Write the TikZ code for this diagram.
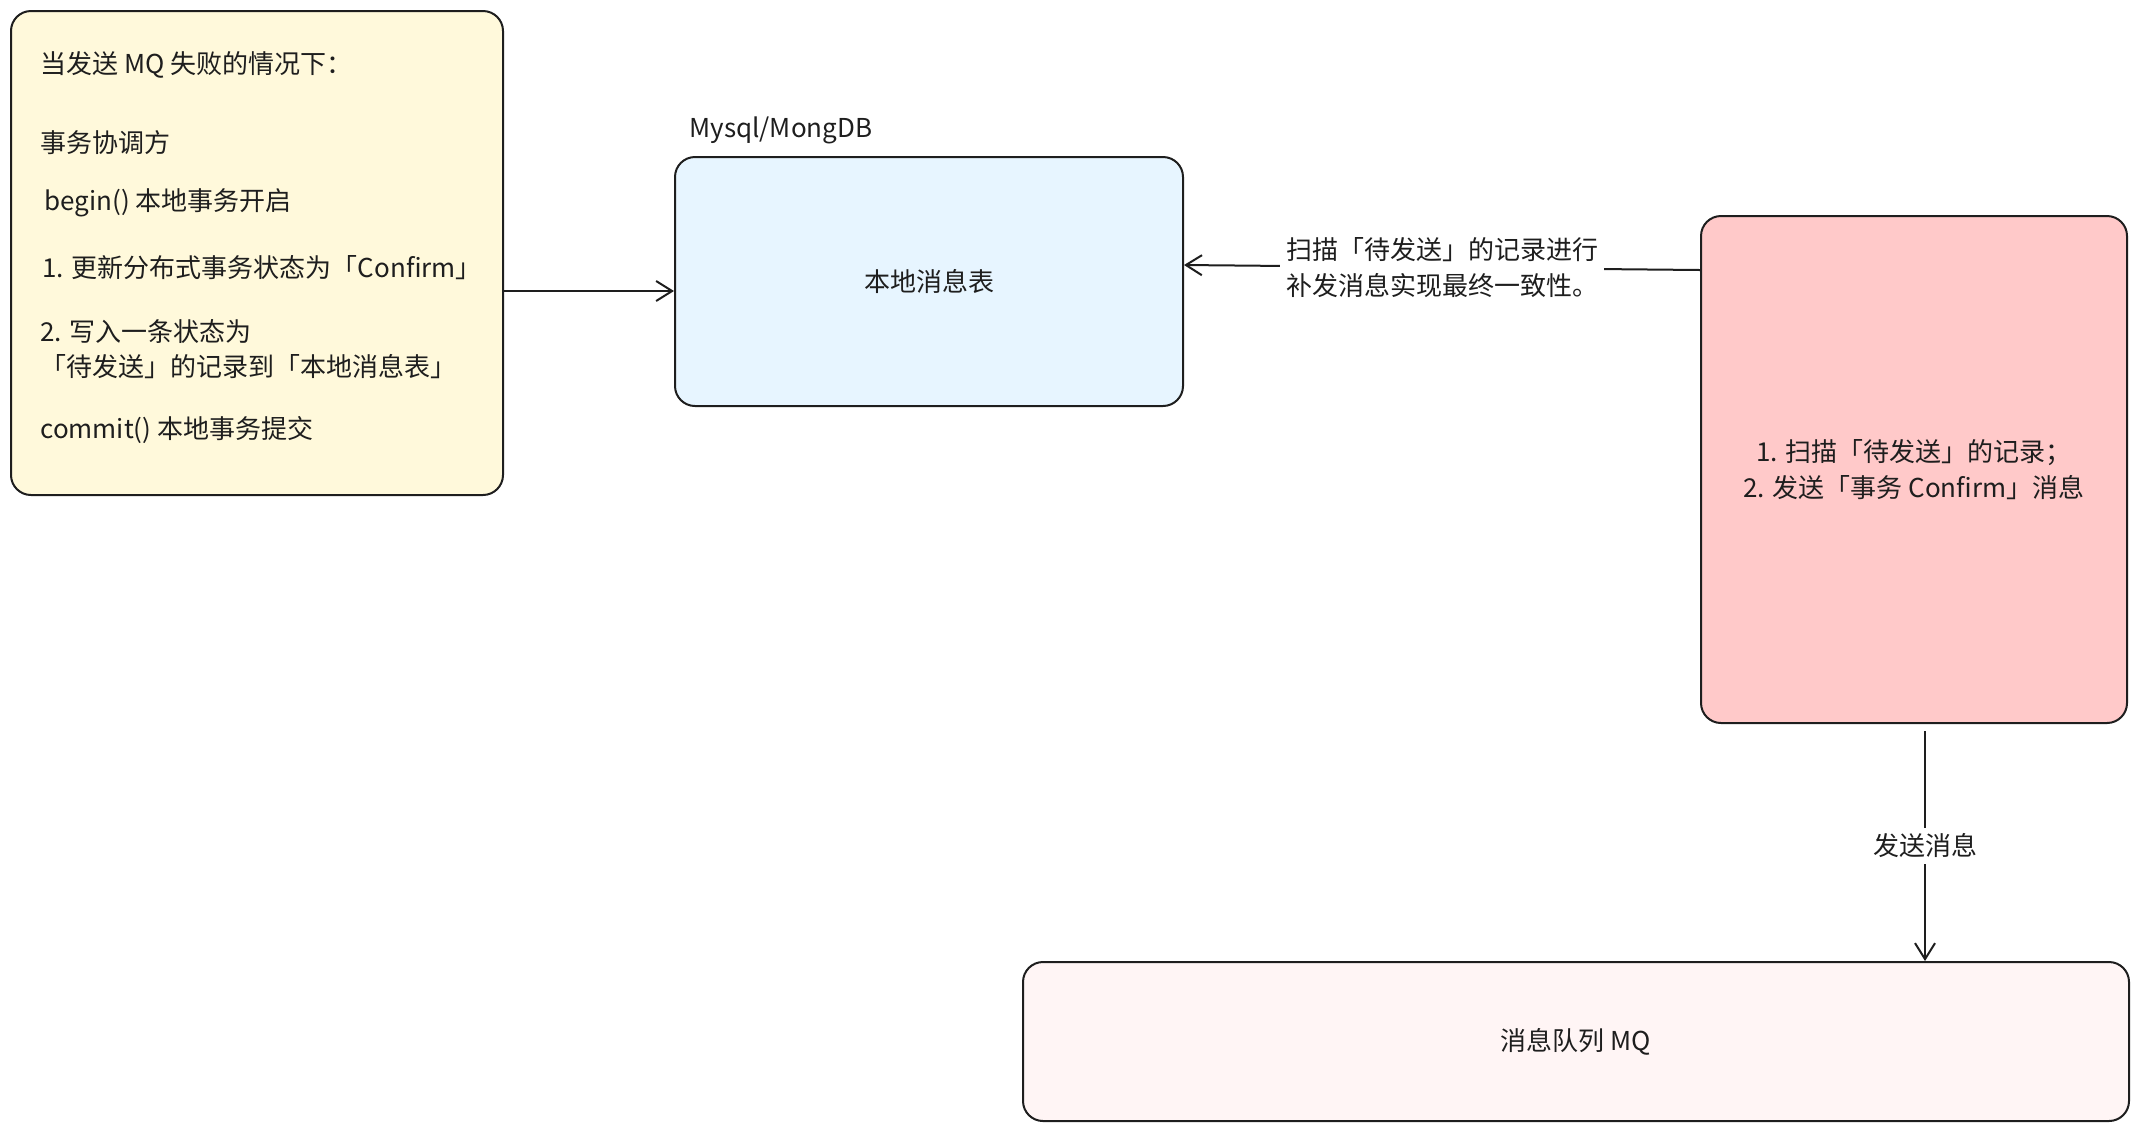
\documentclass[tikz,border=0pt]{standalone}
\usepackage{fontspec}
\setmainfont{Noto Sans CJK SC}
\usetikzlibrary{arrows.meta}
\definecolor{ink}{HTML}{1E1E1E}
\definecolor{yel}{HTML}{FFF9DB}
\definecolor{blu}{HTML}{E7F5FF}
\definecolor{rd}{HTML}{FFC9C9}
\definecolor{pnk}{HTML}{FFF5F5}
\tikzset{
  box/.style={draw=ink, line width=1pt, rounded corners=10pt, inner sep=0pt, font=\fontsize{13}{18}\selectfont, text=ink},
  txt/.style={anchor=west, inner sep=0pt, font=\fontsize{13}{17}\selectfont, text=ink},
  arr/.style={draw=ink, line width=1pt, -{Straight Barb[length=8pt,width=10pt,line width=1pt]}},
  lbl/.style={fill=white, inner sep=3pt, font=\fontsize{13}{18}\selectfont, text=ink, align=left}
}
\begin{document}
\begin{tikzpicture}[x=0.5pt,y=-0.5pt]
\useasboundingbox (0,0) rectangle (2139,1131);
% boxes
\node[box, fill=yel, minimum width=246pt, minimum height=242pt] (left) at (257,253) {};
\node[box, fill=blu, minimum width=254pt, minimum height=124.5pt] (blue) at (929,281.5) {本地消息表};
\node[box, fill=rd, minimum width=213pt, minimum height=253.5pt, align=center] (red) at (1914,469.5) {1. 扫描「待发送」的记录；\\2. 发送「事务 Confirm」消息};
\node[box, fill=pnk, minimum width=553pt, minimum height=79.5pt] (bot) at (1576,1041.5) {消息队列 MQ};
% texts in left box
\node[txt] (l1) at (40,65) {当发送 MQ 失败的情况下：};
\node[txt] (l2) at (40,143) {事务协调方};
\node[txt] (l3) at (44,203) {begin() 本地事务开启};
\node[txt] (l4) at (42,268) {1. 更新分布式事务状态为「Confirm」};
\node[txt] (l5) at (40,332) {2. 写入一条状态为};
\node[txt] (l6) at (40,367) {「待发送」的记录到「本地消息表」};
\node[txt] (l7) at (40,430) {commit() 本地事务提交};
\node[txt] (db) at (689,130) {Mysql/MongDB};
% connectors
\draw[arr] (left.east |- 0,291) -- (blue.west |- 0,291);
\draw[arr] (red.west |- 0,270) -- node[lbl, pos=0.5] {扫描「待发送」的记录进行\\补发消息实现最终一致性。} (blue.east |- 0,265);
\draw[arr] (1925,731) -- node[lbl, pos=0.5] {发送消息} (bot.north -| 1925,0);
\end{tikzpicture}
\end{document}
